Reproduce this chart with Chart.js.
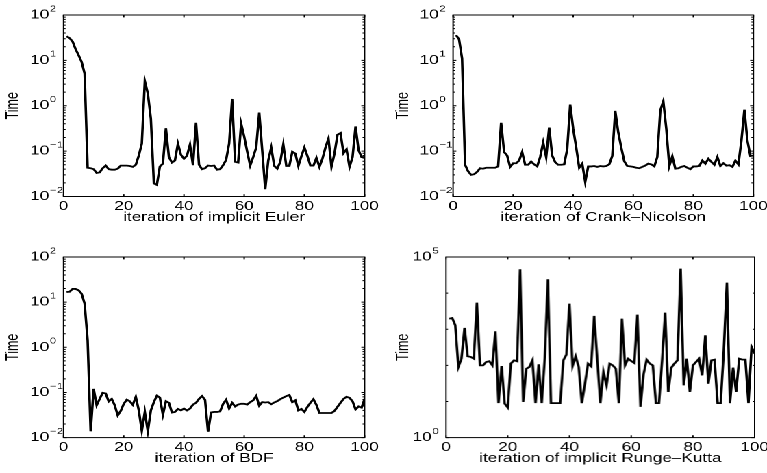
<!DOCTYPE html>
<html>
<head>
<meta charset="utf-8">
<title>Time per iteration</title>
<script src="https://cdn.jsdelivr.net/npm/chart.js@4.4.0/dist/chart.umd.min.js"></script>
<style>
  html, body { margin: 0; padding: 0; background: #fff; overflow: hidden; }
  /* the figure is laid out at 560px wide and stretched to the page width, like the original export */
  #figure { position: absolute; left: 0; top: 0; width: 560px; height: 473px;
            transform: scale(1.3696, 1); transform-origin: 0 0; }
  .panel { position: absolute; }
</style>
</head>
<body>
<div id="figure">
  <div class="panel"><canvas id="c1"></canvas></div>
  <div class="panel"><canvas id="c2"></canvas></div>
  <div class="panel"><canvas id="c3"></canvas></div>
  <div class="panel"><canvas id="c4"></canvas></div>
</div>
<script>
// time per iteration
const euler = [
  34, 31, 26, 17.7, 13, 9.3, 5.1, 0.043, 0.042, 0.040,
  0.033, 0.034, 0.042, 0.048, 0.040, 0.039, 0.039, 0.041, 0.048, 0.048,
  0.048, 0.047, 0.045, 0.050, 0.080, 0.146, 3.5, 1.86, 0.52, 0.0195,
  0.018, 0.046, 0.053, 0.32, 0.074, 0.056, 0.062, 0.146, 0.083, 0.068,
  0.079, 0.14, 0.049, 0.42, 0.050, 0.040, 0.042, 0.048, 0.047, 0.048,
  0.039, 0.040, 0.049, 0.064, 0.146, 1.41, 0.058, 0.056, 0.40, 0.21,
  0.098, 0.048, 0.074, 0.12, 0.71, 0.103, 0.0145, 0.062, 0.12, 0.047,
  0.041, 0.058, 0.14, 0.047, 0.047, 0.097, 0.088, 0.047, 0.077, 0.12,
  0.078, 0.048, 0.048, 0.071, 0.045, 0.068, 0.12, 0.19, 0.045, 0.088,
  0.23, 0.25, 0.09, 0.11, 0.045, 0.074, 0.35, 0.105, 0.074, 0.074
];
const crankNicolson = [
  36, 29, 11, 0.050, 0.036, 0.030, 0.031, 0.035, 0.042, 0.041,
  0.043, 0.043, 0.043, 0.043, 0.046, 0.42, 0.095, 0.080, 0.045, 0.054,
  0.054, 0.062, 0.095, 0.050, 0.050, 0.059, 0.051, 0.046, 0.074, 0.155,
  0.074, 0.33, 0.080, 0.057, 0.050, 0.050, 0.051, 0.11, 1.06, 0.31,
  0.12, 0.043, 0.053, 0.021, 0.046, 0.046, 0.047, 0.045, 0.047, 0.046,
  0.047, 0.051, 0.078, 0.77, 0.26, 0.12, 0.060, 0.047, 0.046, 0.045,
  0.043, 0.042, 0.045, 0.048, 0.053, 0.051, 0.046, 0.074, 0.79, 1.26,
  0.31, 0.047, 0.077, 0.041, 0.042, 0.045, 0.047, 0.043, 0.040, 0.046,
  0.046, 0.047, 0.062, 0.053, 0.068, 0.058, 0.050, 0.074, 0.047, 0.054,
  0.048, 0.049, 0.045, 0.062, 0.051, 0.17, 0.82, 0.17, 0.078, 0.080
];
const bdf = [
  16.8, 17, 19.6, 19.6, 18.3, 15.4, 9.3, 1.43, 0.0138, 0.12,
  0.052, 0.072, 0.098, 0.095, 0.063, 0.072, 0.052, 0.031, 0.039, 0.056,
  0.069, 0.064, 0.053, 0.080, 0.040, 0.0141, 0.037, 0.0138, 0.040, 0.061,
  0.085, 0.077, 0.032, 0.064, 0.059, 0.036, 0.037, 0.043, 0.040, 0.044,
  0.040, 0.044, 0.054, 0.059, 0.072, 0.083, 0.069, 0.0135, 0.036, 0.037,
  0.037, 0.038, 0.056, 0.069, 0.044, 0.059, 0.049, 0.054, 0.056, 0.056,
  0.054, 0.061, 0.067, 0.084, 0.051, 0.061, 0.060, 0.061, 0.055, 0.060,
  0.064, 0.071, 0.077, 0.083, 0.088, 0.061, 0.067, 0.040, 0.043, 0.037,
  0.048, 0.059, 0.071, 0.053, 0.035, 0.035, 0.035, 0.035, 0.035, 0.039,
  0.048, 0.059, 0.072, 0.080, 0.076, 0.064, 0.042, 0.049, 0.046, 0.072
];
const rungeKutta = [
  1960, 2050, 1285, 90, 153, 1084, 178, 171, 153, 5445,
  100, 100, 124, 130, 100, 877, 9, 96, 8.7, 6.8,
  112, 138, 130, 45600, 9.7, 81, 90, 138, 9, 107,
  9, 160, 24100, 9, 9, 9, 9, 138, 198, 5100,
  96, 178, 90, 9, 31, 112, 94, 2330, 144, 9,
  66, 28, 112, 100, 81, 9, 1960, 100, 153, 132,
  116, 2535, 7.1, 57, 144, 112, 100, 9, 9, 138,
  2877, 18.4, 86.5, 112, 138, 47500, 28, 153, 18.4, 100,
  124, 153, 53, 679, 31, 138, 144, 9, 9, 261,
  19500, 9, 86.5, 18.4, 153, 144, 144, 9, 323, 211
];
const iterations = euler.map((_, i) => i + 1);

const xTitles = ["iteration of implicit Euler", "iteration of Crank\u2013Nicolson",
                 "iteration of BDF", "iteration of implicit Runge\u2013Kutta"];
const yTitle = "Time";
const smallDecades = [0.01, 0.1, 1, 10, 100];
const bigDecades = [1, 100000];

const FONT = "'Liberation Sans', Arial, Helvetica, sans-serif";
const FONT_SIZE = 12.5;
const TICK_LEN = 2.4;
const MINOR_LEN = 1.5;
const X_AXIS_H = 28.5;

// plot boxes in figure coordinates (560 x 473)
const boxes = [
  { left: 46.7, right: 266.5, top: 15, bottom: 196.5, yAxisW: 44.4 },
  { left: 330.5, right: 549.8, top: 15, bottom: 196.5, yAxisW: 43.8 },
  { left: 46.7, right: 266.5, top: 256.7, bottom: 437.3, yAxisW: 44.4 },
  { left: 325.6, right: 550.5, top: 256.7, bottom: 437.3, yAxisW: 38.6 }
];

// box, inward ticks on all sides and 10^n tick labels
const matlabAxes = {
  id: "matlabAxes",
  afterDraw(chart) {
    const { ctx, chartArea: a, scales: { x, y } } = chart;
    ctx.save();
    ctx.strokeStyle = "#000";
    ctx.lineWidth = 1;
    ctx.strokeRect(a.left, a.top, a.right - a.left, a.bottom - a.top);

    ctx.beginPath();
    x.ticks.forEach(t => {
      const px = x.getPixelForValue(t.value);
      ctx.moveTo(px, a.bottom); ctx.lineTo(px, a.bottom - TICK_LEN);
      ctx.moveTo(px, a.top); ctx.lineTo(px, a.top + TICK_LEN);
    });
    const lo = Math.round(Math.log10(y.min));
    const hi = Math.round(Math.log10(y.max));
    const labelled = y.ticks.map(t => t.value);
    for (let e = lo; e <= hi; e++) {
      const mults = (hi - lo) > 4 ? [1] : [1, 2, 3, 4, 5, 6, 7, 8, 9];
      mults.forEach(k => {
        if (e === hi && k > 1) return;
        const v = k * Math.pow(10, e);
        const py = y.getPixelForValue(v);
        const len = labelled.some(l => Math.abs(l - v) / v < 1e-6) ? TICK_LEN : MINOR_LEN;
        ctx.moveTo(a.left, py); ctx.lineTo(a.left + len, py);
        ctx.moveTo(a.right, py); ctx.lineTo(a.right - len, py);
      });
    }
    ctx.stroke();

    ctx.fillStyle = "#000";
    ctx.textBaseline = "middle";
    y.ticks.forEach(t => {
      const py = y.getPixelForValue(t.value);
      const exp = Math.round(Math.log10(t.value));
      ctx.font = FONT_SIZE + "px " + FONT;
      ctx.textAlign = "right";
      ctx.fillText("10", a.left - 10.5, py);
      ctx.font = "8.5px " + FONT;
      ctx.textAlign = "left";
      ctx.fillText(exp < 0 ? "\u2212" + (-exp) : String(exp), a.left - 10, py - 6);
    });
    ctx.restore();
  }
};

function drawPanel(canvasId, box, values, decades, xTitle) {
  const padTop = 12, padRight = 12, padBottom = 4;
  const wrap = document.getElementById(canvasId).parentNode;
  wrap.style.left = (box.left - box.yAxisW) + "px";
  wrap.style.top = (box.top - padTop) + "px";
  wrap.style.width = (box.yAxisW + box.right - box.left + padRight) + "px";
  wrap.style.height = (padTop + box.bottom - box.top + X_AXIS_H + padBottom) + "px";

  return new Chart(document.getElementById(canvasId), {
    type: "line",
    data: {
      datasets: [{
        data: iterations.map((it, i) => ({ x: it, y: values[i] })),
        borderColor: "#000",
        borderWidth: 1.8,
        pointRadius: 0,
        tension: 0,
        fill: false
      }]
    },
    options: {
      responsive: true,
      maintainAspectRatio: false,
      animation: false,
      devicePixelRatio: 2,
      events: [],
      layout: { padding: { top: padTop, right: padRight, bottom: padBottom, left: 0 } },
      plugins: { legend: { display: false }, tooltip: { enabled: false } },
      scales: {
        x: {
          type: "linear",
          min: 0,
          max: 100,
          grid: { display: false, drawTicks: false },
          border: { display: false },
          ticks: { stepSize: 20, padding: 2.5, color: "#000", maxRotation: 0, autoSkip: false,
                   font: { family: FONT, size: FONT_SIZE } },
          title: { display: true, text: xTitle, color: "#000", padding: 0,
                   font: { family: FONT, size: FONT_SIZE } },
          afterFit: s => { s.height = X_AXIS_H; s.paddingLeft = 0; s.paddingRight = 0; }
        },
        y: {
          type: "logarithmic",
          min: decades[0],
          max: decades[decades.length - 1],
          grid: { display: false, drawTicks: false },
          border: { display: false },
          ticks: { display: false },
          afterBuildTicks: s => { s.ticks = decades.map(v => ({ value: v })); },
          title: { display: true, text: yTitle, color: "#000", padding: 0,
                   font: { family: FONT, size: FONT_SIZE } },
          afterFit: s => { s.width = box.yAxisW; s.paddingTop = 0; s.paddingBottom = 0; }
        }
      }
    },
    plugins: [matlabAxes]
  });
}

drawPanel("c1", boxes[0], euler, smallDecades, xTitles[0]);
drawPanel("c2", boxes[1], crankNicolson, smallDecades, xTitles[1]);
drawPanel("c3", boxes[2], bdf, smallDecades, xTitles[2]);
drawPanel("c4", boxes[3], rungeKutta, bigDecades, xTitles[3]);
</script>
</body>
</html>
